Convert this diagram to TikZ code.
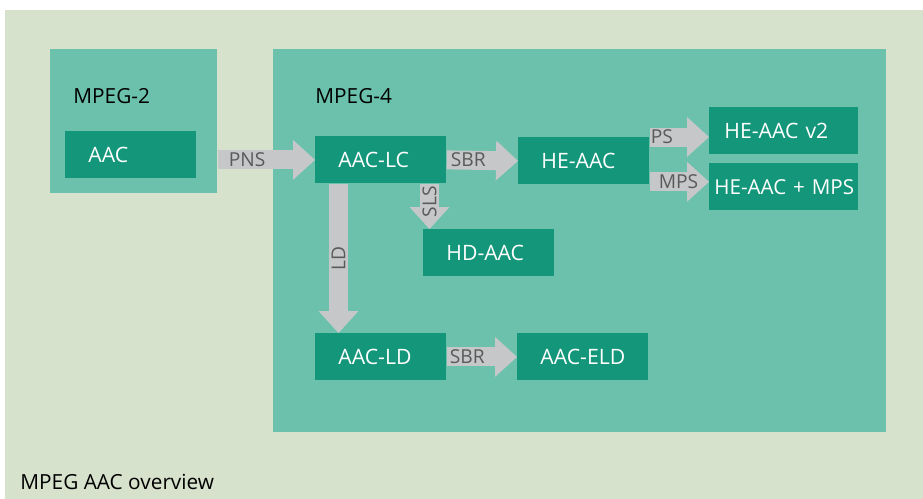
\documentclass[tikz,border=0pt]{standalone}
\usepackage{fontspec}
\setmainfont{Open Sans}
\usetikzlibrary{arrows.meta}

\definecolor{pagebg}{HTML}{D6E2CB}
\definecolor{groupfill}{HTML}{6CC1AD}
\definecolor{codecfill}{HTML}{14967A}
\definecolor{arrowgray}{HTML}{C6C7C9}
\definecolor{labelgray}{HTML}{5A5A5A}

\tikzset{
  group/.style={fill=groupfill, anchor=north west, inner sep=0pt},
  grouptitle/.style={anchor=west, inner sep=0pt, font=\fontsize{10.4}{12}\selectfont},
  codec/.style={fill=codecfill, text=white, anchor=north west, align=left,
    minimum height=23.5pt, inner ysep=0pt, inner xsep=11.5pt, text width=42.5pt,
    font=\fontsize{10.6}{12}\selectfont},
  fat/.style={draw=arrowgray, line width=9.5pt,
    -{Triangle[length=11pt,width=20pt,line width=0pt]}},
  tag/.style={text=labelgray, inner sep=0pt, outer sep=0pt, font=\fontsize{9.6}{11}\selectfont}
}

\begin{document}
\begin{tikzpicture}[x=0.5pt,y=-0.5pt]
  \useasboundingbox (0,0) rectangle (923,499);
  \fill[pagebg] (5,10) rectangle (923,499);

  % the two standards
  \node[group, minimum width=83.5pt, minimum height=72pt] (mpegtwo) at (50,49) {};
  \node[group, minimum width=306.5pt, minimum height=191.5pt] (mpegfour) at (273,49) {};
  \node[grouptitle] (twotitle) at (73,96) {MPEG-2};
  \node[grouptitle] (fourtitle) at (315,96) {MPEG-4};

  % codecs
  \node[codec] (aac) at (65,131) {AAC};
  \node[codec] (aaclc) at (315,136) {AAC-LC};
  \node[codec] (heaac) at (518,137) {HE-AAC};
  \node[codec, inner xsep=7.5pt, text width=59.5pt] (heaacv) at (709,107) {\mbox{HE-AAC v2}};
  \node[codec, inner xsep=2.5pt, text width=69.5pt, font=\fontsize{10.3}{12}\selectfont]
    (heaacmps) at (709,163) {\mbox{HE-AAC + MPS}};
  \node[codec] (hdaac) at (423,229) {HD-AAC};
  \node[codec] (aacld) at (315,333) {AAC-LD};
  \node[codec] (aaceld) at (517,333) {AAC-ELD};

  % tools
  \draw[fat] (mpegtwo.east |- aaclc.west) -- (aaclc.west)
    node[tag, pos=0, anchor=west, xshift=5.5pt] {PNS};
  \draw[fat] (aaclc.east) -- (heaac.west)
    node[tag, pos=0, anchor=west, xshift=2pt] {SBR};
  \draw[fat] (heaac.north east) -- (heaac.north east -| heaacv.west)
    node[tag, pos=0, anchor=west, xshift=0.5pt] {PS};
  \coordinate (mpsstart) at ([yshift=1.5pt]heaac.south east);
  \draw[fat] (mpsstart) -- (mpsstart -| heaacmps.west)
    node[tag, pos=0, anchor=west, xshift=4.5pt] {MPS};
  \coordinate (slsstart) at ([xshift=3.25pt]aaclc.south -| hdaac.west);
  \draw[fat] (slsstart) -- (slsstart |- hdaac.north)
    node[tag, pos=.4, rotate=90] {SLS};
  \draw[fat] ([xshift=11.75pt]aaclc.south west) -- ([xshift=11.75pt]aacld.north west)
    node[tag, midway, rotate=90] {LD};
  \draw[fat] (aacld.east) -- (aaceld.west)
    node[tag, pos=0, anchor=west, xshift=1.5pt] {SBR};

  \node[anchor=base west, inner sep=0pt, font=\fontsize{10.4}{12}\selectfont] (caption)
    at (20,489) {MPEG AAC overview};
\end{tikzpicture}
\end{document}
